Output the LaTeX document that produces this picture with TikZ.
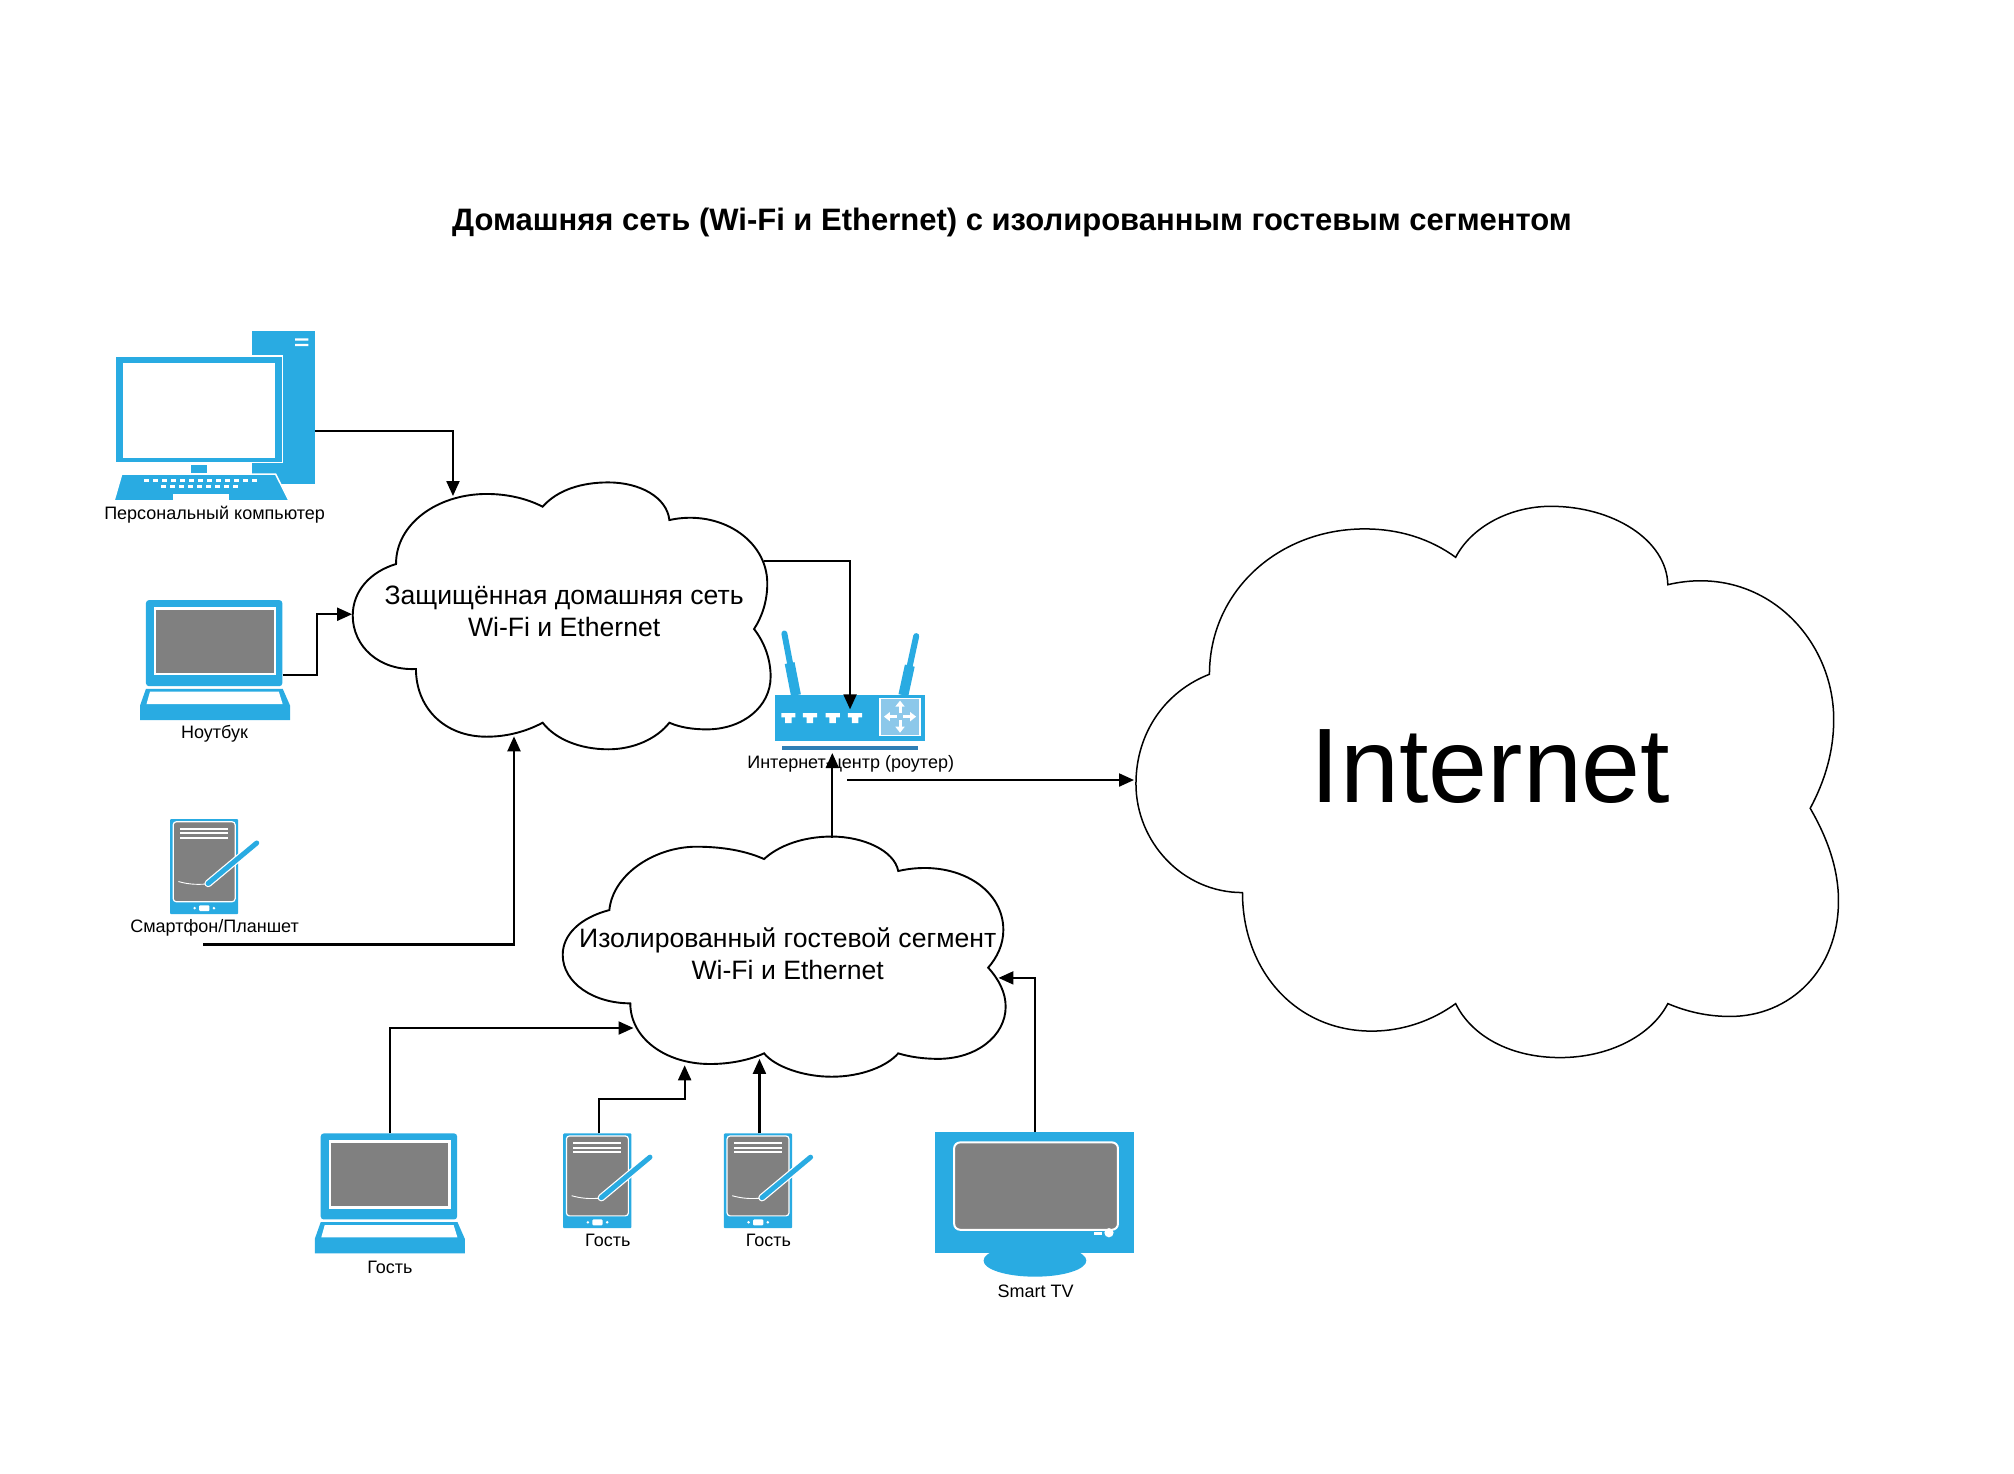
\documentclass[tikz,border=0pt]{standalone}
\usepackage{fontspec}
\setmainfont{Liberation Sans}
\usetikzlibrary{positioning, arrows.meta}
\definecolor{iconblue}{HTML}{29ABE2}
\definecolor{icongray}{HTML}{808080}
\definecolor{routerline}{HTML}{2F7FB5}
\definecolor{routerbox}{HTML}{8CC8EA}
\tikzset{
	port/.style={inner sep=0pt, outer sep=0pt, minimum size=0pt},
	devlabel/.style={inner sep=0pt, font=\fontsize{18}{22}\selectfont},
	cloudlabel/.style={inner sep=0pt, align=center, font=\fontsize{26.6}{32}\selectfont},
	cloudline/.style={draw=black, line width=1.9pt, fill=white},
	link/.style={->, line width=2.1pt},
}
\newcommand{\laptopicon}[1]{
	\begin{scope}[shift={#1}]
		\fill[iconblue, rounded corners=3pt] (113.6,467) rectangle (219.7,534);
		\fill[icongray, draw=white, line width=2.6pt] (120.7,473.4) rectangle (214,524.5);
		\fill[iconblue] (113.6,536) -- (220,536) -- (225.7,549) -- (225.7,560.4) -- (109,560.4) -- (109,549) -- cycle;
		\fill[white] (116.7,538.3) -- (217,538.3) -- (220,548) -- (114,548) -- cycle;
	\end{scope}
}
\newcommand{\tableticon}[1]{
	\begin{scope}[shift={#1}]
		\fill[iconblue, rounded corners=1pt] (132.3,637.5) rectangle (185.4,711.3);
		\fill[icongray, draw=white, line width=1.2pt, rounded corners=3pt] (134.8,639.5) rectangle (183,701.7);
		\foreach \y in {645, 648.6, 652}
			\draw[white, line width=2pt] (140,\y) -- (177.6,\y);
		\draw[white, line width=0.9pt] (138.8,686) .. controls (146,688) and (152,688.5) .. (159.6,688);
		\draw[white, line width=7.5pt, line cap=round] (162,687.5) -- (199.8,656);
		\draw[iconblue, line width=5pt, line cap=round] (162,687.5) -- (199.8,656);
		\fill[white, rounded corners=1pt] (155,704.5) rectangle (163,709);
		\fill[white] (151.5,706.7) circle (1.1) (166.5,706.7) circle (1.1);
	\end{scope}
}
\begin{document}
\begin{tikzpicture}[x=1.285pt, y=-1.285pt, >={Triangle[length=15pt, width=13pt]}]
	\useasboundingbox (0,0) rectangle (1567.3,1146.3);
	\node[inner sep=0pt, font=\bfseries\fontsize{31}{36}\selectfont] (title) at (787.5,173) {Домашняя сеть (Wi-Fi и Ethernet) с изолированным гостевым сегментом};

	% clouds
	\draw[cloudline] (422.3,394.3) .. controls (434,381) and (453,375.4) .. (473.4,375.4)
		.. controls (498,375.4) and (519,387) .. (520.9,404.7)
		.. controls (560,396) and (597.1,420) .. (597.1,454) .. controls (597.1,468) and (593,480) .. (586.8,489.5)
		.. controls (595,500) and (599.7,513) .. (599.7,526.6) .. controls (599.7,550) and (578,567.6) .. (550,567.6)
		.. controls (539,567.6) and (529,566) .. (520.9,562.4)
		.. controls (511,575) and (493,583.1) .. (473.4,583.1) .. controls (451,583.1) and (432,575) .. (422.3,562.4)
		.. controls (410,569) and (395,573.3) .. (378.7,573.3) .. controls (345,573.3) and (323.7,550) .. (323.7,520.6)
		.. controls (295,522) and (274.5,503) .. (274.5,479) .. controls (274.5,460) and (288,445) .. (308.2,438.9)
		.. controls (308,408) and (340,384.4) .. (378.7,384.4) .. controls (395,384.4) and (410,388) .. (422.3,394.3) -- cycle;
	\draw[cloudline] (594.6,668.5) .. controls (606,658) and (625,651) .. (647.2,651)
		.. controls (672,651) and (696,662) .. (699,677.8)
		.. controls (742,668) and (780.8,690) .. (780.8,723.7) .. controls (780.8,735) and (776,745) .. (769,753)
		.. controls (778,763) and (782.6,773) .. (782.6,783.4) .. controls (782.6,806) and (760,824) .. (730,824)
		.. controls (719,824) and (708,822.5) .. (699,819.7)
		.. controls (690,830) and (670,837.9) .. (647.2,837.9) .. controls (625,837.9) and (603,830) .. (594.6,819.7)
		.. controls (583,825) and (568,828) .. (552.5,828) .. controls (518,828) and (490.5,808) .. (490.5,780.8)
		.. controls (462,780.8) and (437.9,765) .. (437.9,743) .. controls (437.9,727) and (452,714) .. (474.2,708.2)
		.. controls (477,680) and (510,658.9) .. (542,658.9) .. controls (562,658.9) and (580,662) .. (594.6,668.5) -- cycle;
	\draw[cloudline, line width=1.5pt] (1132.8,433.7) .. controls (1145,410) and (1175,394) .. (1206.9,394)
		.. controls (1255,394) and (1297,420) .. (1297.9,455)
		.. controls (1370,438) and (1427,495) .. (1427,560) .. controls (1427,585) and (1420,608) .. (1408.7,629)
		.. controls (1422,652) and (1430.7,676) .. (1430.7,701) .. controls (1430.7,755) and (1393,791) .. (1346.3,791)
		.. controls (1328,791) and (1312,787) .. (1297.9,781)
		.. controls (1285,806) and (1252,823) .. (1214,823) .. controls (1175,823) and (1145,806) .. (1132.8,781)
		.. controls (1115,794) and (1092,802.4) .. (1067.5,802.4) .. controls (1008,802.4) and (966.9,755) .. (966.9,694.6)
		.. controls (920,694.6) and (884,655) .. (884,610) .. controls (884,570) and (907,538) .. (941.2,524.7)
		.. controls (941.2,460) and (995,411.6) .. (1062,411.6) .. controls (1090,411.6) and (1114,420) .. (1132.8,433.7) -- cycle;
	\node[cloudlabel] (home) at (439,476) {Защищённая домашняя сеть\\Wi-Fi и Ethernet};
	\node[cloudlabel] (guest) at (613,742) {Изолированный гостевой сегмент\\Wi-Fi и Ethernet};
	\node[inner sep=0pt, font=\fontsize{106}{120}\selectfont] (internet) at (1160,596.5) {Internet};

	% personal computer
	\fill[iconblue] (196,257.6) rectangle (245,376.6);
	\fill[white] (229.6,263.3) rectangle (240,265) (229.6,267.6) rectangle (240,269.3);
	\fill[iconblue, draw=white, line width=1.5pt] (90,277) rectangle (220,360);
	\fill[white] (95.5,282.7) rectangle (214,356.6);
	\fill[iconblue] (149,362) rectangle (161,368);
	\fill[iconblue, draw=white, line width=1.5pt] (94.7,369) -- (214.5,369) -- (225,389.8) -- (88.7,389.8) -- cycle;
	\foreach \x in {112,119,...,196}
		\fill[white] (\x,372.8) rectangle ++(4,2.4);
	\foreach \x in {125,132,...,182}
		\fill[white] (\x,377.2) rectangle ++(4,2.4);
	\fill[white] (134.8,384.4) rectangle (178,389.4);
	\node[devlabel] (pclabel) at (167,400.5) {Персональный компьютер};

	\laptopicon{(0,0)}
	\node[devlabel] (laptoplabel) at (167,571) {Ноутбук};
	\tableticon{(0,0)}
	\node[devlabel] (tabletlabel) at (167,722) {Смартфон/Планшет};

	% router
	\draw[iconblue, line width=6pt, line cap=round] (610.4,493) -- (614.8,516);
	\draw[iconblue, line width=10pt] (614.5,516) -- (619.4,541);
	\draw[iconblue, line width=6pt, line cap=round] (713,495) -- (708,518);
	\draw[iconblue, line width=10pt] (708,518) -- (703,541);
	\fill[iconblue] (603,541) rectangle (720,576.4);
	\draw[routerline, line width=3.5pt] (608.7,582) -- (714,582);
	\foreach \x in {613.5,630.3,648,665.4}
		\fill[white] (\x-5.5,555) -- (\x+5.5,555) -- (\x+5.5,558.2) -- (\x+2.5,558.2) -- (\x+2.5,562.7) -- (\x-2.5,562.7) -- (\x-2.5,558.2) -- (\x-5.5,558.2) -- cycle;
	\fill[routerbox, draw=white, line width=1.2pt] (684.8,543.5) rectangle (716,572.5);
	\foreach \a in {0,90,180,270}
		\draw[white, line width=3pt, -{Triangle[length=6pt, width=9pt]}] (700.4,557.7) ++(\a:2.5) -- ++(\a:10);
	\node[devlabel] (routerlabel) at (662,594.5) {Интернет-центр (роутер)};

	% guest devices
	\laptopicon{(136,415)}
	\node[devlabel] (guestlaptoplabel) at (303.5,986) {Гость};
	\tableticon{(306,244.5)}
	\node[devlabel] (guesttabletalabel) at (473,965.5) {Гость};
	\tableticon{(431,244.5)}
	\node[devlabel] (guesttabletblabel) at (598,965.5) {Гость};

	% tv
	\fill[iconblue] (805.4,981) ellipse (40 and 12.5);
	\fill[iconblue] (727.6,881) rectangle (882.5,975);
	\fill[icongray, draw=white, line width=2pt, rounded corners=6pt] (742.5,889) rectangle (870,957);
	\fill[white] (863,959.3) circle (3.6);
	\fill[white] (851.5,958.5) rectangle (857.5,960.8);
	\node[devlabel] (tvlabel) at (806,1004.5) {Smart TV};

	% ports on the shapes
	\node[port] (pc) at (245,335.5) {};
	\node[port] (laptop) at (220,525) {};
	\node[port] (tablet) at (158,735) {};
	\node[port] (homepc) at (352.5,386) {};
	\node[port] (homelaptop) at (274,478) {};
	\node[port] (hometablet) at (400,573) {};
	\node[port] (homeout) at (594.5,436.5) {};
	\node[port] (routerin) at (661.5,552) {};
	\node[port] (routerguest) at (647.7,586) {};
	\node[port] (routerout) at (659.5,607) {};
	\node[port] (internetin) at (882.5,607) {};
	\node[port] (guestout) at (647.7,652) {};
	\node[port] (guestlaptop) at (303.5,882) {};
	\node[port] (guesttableta) at (466,882) {};
	\node[port] (guesttabletb) at (591,882) {};
	\node[port] (tv) at (805.7,881) {};
	\node[port] (guestinl) at (493,800) {};
	\node[port] (guestina) at (532.8,829) {};
	\node[port] (guestinb) at (591,824) {};
	\node[port] (guestintv) at (777,761) {};

	\draw[link] (pc) -| (homepc);
	\draw[link] (laptop) -- ++(27,0) |- (homelaptop);
	\draw[link] (tablet) -| (hometablet);
	\draw[link] (homeout) -| (routerin);
	\draw[link] (guestout) -- (routerguest);
	\draw[link] (routerout) -- (internetin);
	\draw[link] (guestlaptop) |- (guestinl);
	\draw[link] (guesttableta) -- ++(0,-27) -| (guestina);
	\draw[link] (guesttabletb) -- (guestinb);
	\draw[link] (tv) |- (guestintv);
\end{tikzpicture}
\end{document}
